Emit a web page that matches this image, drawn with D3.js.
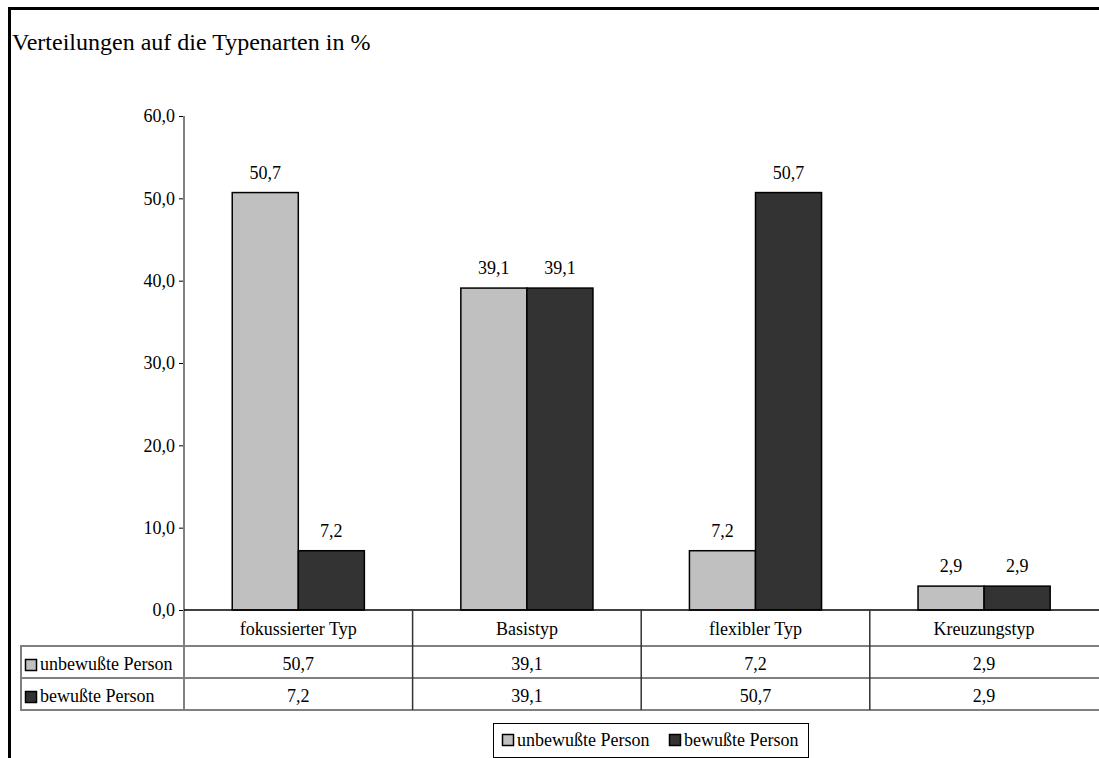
<!DOCTYPE html>
<html><head><meta charset="utf-8">
<script src="https://cdn.jsdelivr.net/npm/d3@7"></script>
<style>
html,body{margin:0;padding:0;background:#fff;overflow:hidden;}
svg{display:block;}
svg text{font-family:"Liberation Serif","Times New Roman","DejaVu Serif",serif !important;fill:#000;}
</style></head>
<body><svg id="c" width="1099" height="758" font-family="Liberation Serif"></svg>
<script>
const title = "Verteilungen auf die Typenarten in %";
const categories = ["fokussierter Typ","Basistyp","flexibler Typ","Kreuzungstyp"];
const seriesNames = ["unbewußte Person","bewußte Person"];
const unbewusst = [50.7,39.1,7.2,2.9];
const bewusst = [7.2,39.1,50.7,2.9];
const seriesColors = ["#c0c0c0","#333333"];
const yTicks = [0,10,20,30,40,50,60];

const fmt = v => d3.format(".1f")(v).replace(".", ",");
const seriesValues = [unbewusst, bewusst];
const FF = "Liberation Serif, Times New Roman, serif";

const svg = d3.select("#c");
const L = 184, R = 1098.4, T = 116, B = 610;
const y = d3.scaleLinear().domain([0,60]).range([B,T]);
const x0 = d3.scaleBand().domain(categories).range([L,R]).padding(0);
const bw = x0.bandwidth();
const x1 = d3.scaleBand().domain(seriesNames).range([bw*0.211, bw*0.789]).padding(0);

// outer frame (top and left edges visible)
svg.append("line").attr("x1",8).attr("x2",1099).attr("y1",8.5).attr("y2",8.5).attr("stroke","#000").attr("stroke-width",3);
svg.append("line").attr("x1",9.5).attr("x2",9.5).attr("y1",7).attr("y2",758).attr("stroke","#000").attr("stroke-width",3);

svg.append("text").attr("x",12).attr("y",50).attr("font-size",24).attr("font-family",FF).text(title);

// y axis
const yAxis = d3.axisLeft(y).tickValues(yTicks).tickSize(5).tickPadding(4).tickFormat(fmt);
const gy = svg.append("g").attr("transform",`translate(${L},0)`).call(yAxis);
gy.attr("font-family",FF);
gy.select(".domain").remove();
gy.selectAll(".tick line").attr("stroke","#000");
gy.selectAll(".tick text").attr("font-size",18).attr("font-family",FF).attr("fill","#000").attr("dy","0.32em");

// bars
const data = [];
categories.forEach((c,i)=>seriesNames.forEach((s,j)=>data.push({c,s,j,v:seriesValues[j][i]})));
svg.append("g").selectAll("rect").data(data).enter().append("rect")
  .attr("x",d=>x0(d.c)+x1(d.s)).attr("y",d=>y(d.v))
  .attr("width",x1.bandwidth()).attr("height",d=>B-y(d.v))
  .attr("fill",d=>seriesColors[d.j]).attr("stroke","#000").attr("stroke-width",1.5);
svg.append("g").selectAll("text").data(data).enter().append("text")
  .attr("x",d=>x0(d.c)+x1(d.s)+x1.bandwidth()/2).attr("y",d=>y(d.v)-14)
  .attr("text-anchor","middle").attr("font-size",18).attr("font-family",FF).text(d=>fmt(d.v));

// axis line (gray) through table
svg.append("line").attr("x1",L).attr("x2",L).attr("y1",T).attr("y2",710).attr("stroke","#808080").attr("stroke-width",2);
// baseline
svg.append("line").attr("x1",L).attr("x2",R+2).attr("y1",B).attr("y2",B).attr("stroke","#000").attr("stroke-width",1.5);

// table
const rowY = [610,646,678,710];
const tl = 21;
const tg = svg.append("g");
[646,678,710].forEach(yy=>tg.append("line").attr("x1",tl).attr("x2",R+2).attr("y1",yy).attr("y2",yy).attr("stroke","#808080").attr("stroke-width",2));
tg.append("line").attr("x1",tl).attr("x2",tl).attr("y1",645).attr("y2",711).attr("stroke","#808080").attr("stroke-width",2);
categories.slice(1).forEach(c=>tg.append("line").attr("x1",x0(c)).attr("x2",x0(c)).attr("y1",B).attr("y2",710).attr("stroke","#333").attr("stroke-width",1.5));
categories.forEach(c=>tg.append("text").attr("x",x0(c)+bw/2).attr("y",635).attr("text-anchor","middle").attr("font-size",18).attr("font-family",FF).text(c));
seriesNames.forEach((s,j)=>{
  const ry = rowY[j+1];
  tg.append("rect").attr("x",25.5).attr("y",ry+13.5).attr("width",11).attr("height",11)
    .attr("fill",seriesColors[j]).attr("stroke","#000").attr("stroke-width",1.5);
  tg.append("text").attr("x",40).attr("y",ry+24).attr("font-size",18).attr("font-family",FF).text(s);
  categories.forEach((c,i)=>tg.append("text").attr("x",x0(c)+bw/2).attr("y",ry+24).attr("text-anchor","middle").attr("font-size",18).attr("font-family",FF).text(fmt(seriesValues[j][i])));
});

// legend
const lg = svg.append("g");
lg.append("rect").attr("x",493.5).attr("y",723.5).attr("width",315).attr("height",34).attr("fill","#fff").attr("stroke","#000").attr("stroke-width",1);
const legX = [502,669];
seriesNames.forEach((s,j)=>{
  lg.append("rect").attr("x",legX[j]+0.5).attr("y",734.5).attr("width",11).attr("height",11)
    .attr("fill",seriesColors[j]).attr("stroke","#000").attr("stroke-width",1.5);
  lg.append("text").attr("x",legX[j]+15).attr("y",746).attr("font-size",18).attr("font-family",FF).text(s);
});
</script></body></html>
